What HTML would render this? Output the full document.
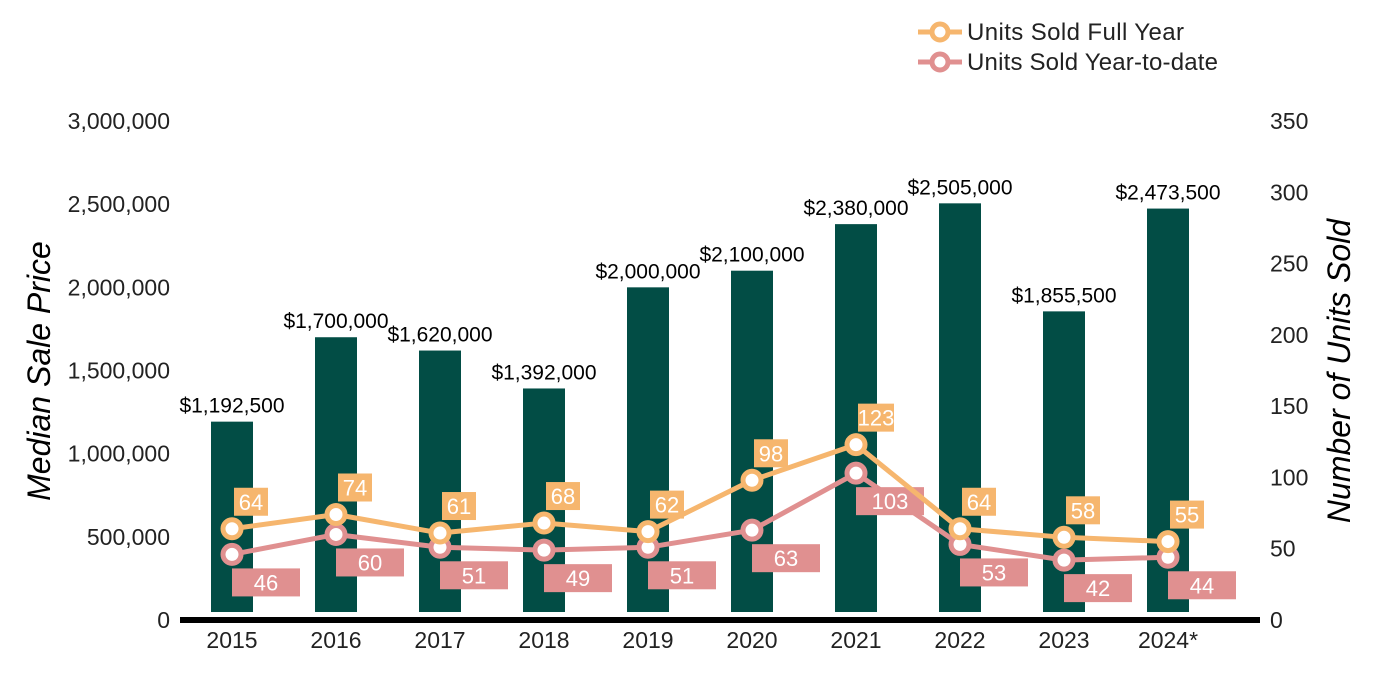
<!DOCTYPE html>
<html><head><meta charset="utf-8"><style>
body{margin:0;background:#fff;}
svg{display:block;font-family:"Liberation Sans",Arial,sans-serif;}
</style></head><body>
<svg id="chart" width="1400" height="700">
<g id="legend">
 <g>
  <line x1="918" y1="32" x2="962" y2="32" stroke="#F6B66E" stroke-width="5"/>
  <circle cx="940" cy="32" r="8" fill="#fff" stroke="#F6B66E" stroke-width="5"/>
  <text x="967" y="40" font-size="24" fill="#222" textLength="217">Units Sold Full Year</text>
 </g>
 <g>
  <line x1="918" y1="62" x2="962" y2="62" stroke="#E09090" stroke-width="5"/>
  <circle cx="940" cy="62" r="8" fill="#fff" stroke="#E09090" stroke-width="5"/>
  <text x="967" y="70" font-size="24" fill="#222" textLength="251">Units Sold Year-to-date</text>
 </g>
</g>
<text x="0" y="0" transform="translate(50,371) rotate(-90)" text-anchor="middle" font-size="32" font-style="italic" fill="#000">Median Sale Price</text>
<text x="0" y="0" transform="translate(1350,371) rotate(-90)" text-anchor="middle" font-size="32" font-style="italic" fill="#000">Number of Units Sold</text>
<g id="left-ticks"></g>
<g id="right-ticks"></g>
<g id="bars"></g>
<rect x="180" y="617" width="1080" height="6" fill="#000"/>
<g id="xlabels"></g>
<g id="lines"></g>
</svg>
<script>
const years=["2015","2016","2017","2018","2019","2020","2021","2022","2023","2024*"];
const prices=[1192500,1700000,1620000,1392000,2000000,2100000,2380000,2505000,1855500,2473500];
const priceLabels=["$1,192,500","$1,700,000","$1,620,000","$1,392,000","$2,000,000","$2,100,000","$2,380,000","$2,505,000","$1,855,500","$2,473,500"];
const unitsFull=[64,74,61,68,62,98,123,64,58,55];
const unitsYtd=[46,60,51,49,51,63,103,53,42,44];
const leftTicks=[0,500000,1000000,1500000,2000000,2500000,3000000];
const rightTicks=[0,50,100,150,200,250,300,350];
const NS="http://www.w3.org/2000/svg";
const yL=v=>620-v/3000000*499;
const yR=v=>620-v/350*499;
const xC=i=>232+i*104;
function mk(tag,attrs,parent,txt){const e=document.createElementNS(NS,tag);for(const k in attrs)e.setAttribute(k,attrs[k]);if(txt!==undefined)e.textContent=txt;parent.appendChild(e);return e;}
const lt=document.getElementById('left-ticks');
leftTicks.forEach(v=>{const t=mk('text',{x:170,y:yL(v)+8,'text-anchor':'end','font-size':23,fill:'#222'},lt,v.toLocaleString('en-US'));

});
const rt=document.getElementById('right-ticks');
rightTicks.forEach(v=>{const t=mk('text',{x:1270,y:yR(v)+8,'font-size':23,fill:'#222'},rt,String(v));

});
const bg=document.getElementById('bars');
prices.forEach((p,i)=>{const r=mk('rect',{x:xC(i)-21,y:yL(p),width:42,height:612-yL(p),fill:'#024D45'},bg);


const t=mk('text',{x:xC(i),y:yL(p)-9,'text-anchor':'middle','font-size':21,fill:'#000'},bg,priceLabels[i]);

});
const xl=document.getElementById('xlabels');
years.forEach((y,i)=>{const t=mk('text',{x:xC(i),y:648,'text-anchor':'middle','font-size':23,fill:'#222'},xl,y);

});
const lg=document.getElementById('lines');
function series(vals,color,name,above){
 const pl=mk('polyline',{points:vals.map((v,i)=>xC(i)+','+yR(v)).join(' '),fill:'none',stroke:color,'stroke-width':5,'stroke-linejoin':'round'},lg);
 
 
 vals.forEach((v,i)=>{const c=mk('circle',{cx:xC(i),cy:yR(v),r:9,fill:'#fff',stroke:color,'stroke-width':5},lg);
 
 });
 vals.forEach((v,i)=>{const cy=above?yR(v)-27:yR(v)+28;const x0=above?xC(i)+2:xC(i);const w=above?(v>=100?36:34):68;
 const b=mk('rect',{x:x0,y:cy-14,width:w,height:28,fill:color},lg);
 
 
 const t=mk('text',{x:x0+w/2,y:cy+8,'text-anchor':'middle','font-size':22,fill:'#fff'},lg,String(v));
 
 });
}
series(unitsYtd,'#E09090','units-ytd',false);
series(unitsFull,'#F6B66E','units-full-year',true);
</script>
</body></html>
